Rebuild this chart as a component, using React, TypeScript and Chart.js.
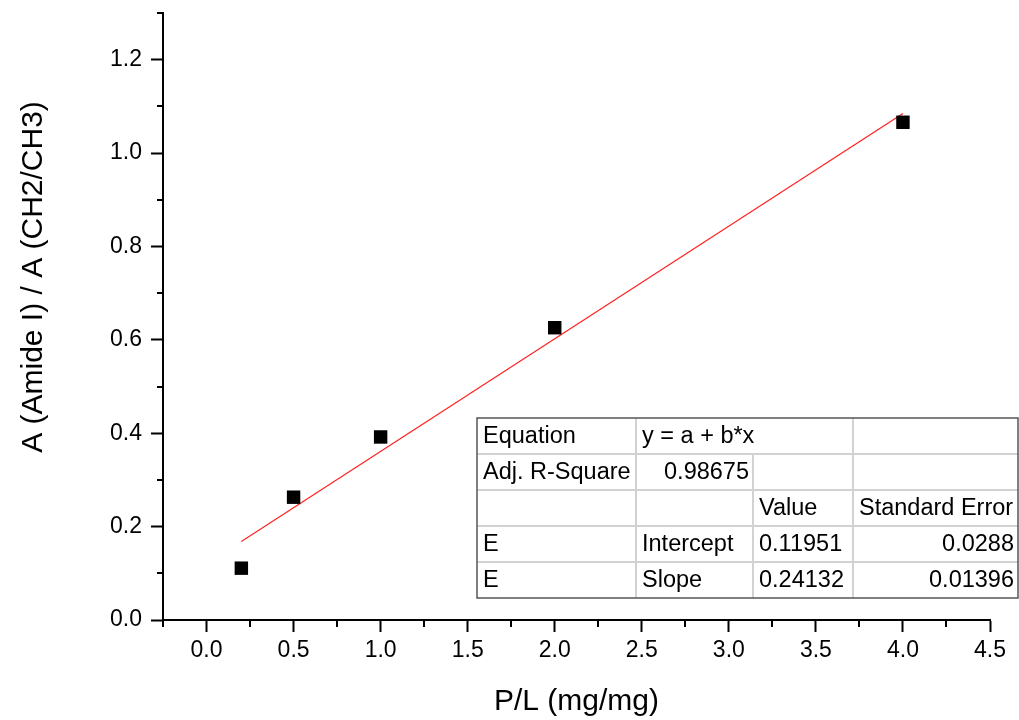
import React, { useEffect, useRef } from "react";
import { Chart, registerables } from "chart.js";

Chart.register(...registerables);

// ---- data ----
const plRatio = [0.2, 0.5, 1.0, 2.0, 4.0];
const amideRatio = [0.111, 0.263, 0.392, 0.626, 1.066];
const fitX = [0.2, 4.0];
const fitY = [0.168, 1.085];

const xMajorTicks = [0, 0.5, 1.0, 1.5, 2.0, 2.5, 3.0, 3.5, 4.0, 4.5];
const xMinorTicks = [-0.25, 0.25, 0.75, 1.25, 1.75, 2.25, 2.75, 3.25, 3.75, 4.25];
const yMajorTicks = [0, 0.2, 0.4, 0.6, 0.8, 1.0, 1.2];
const yMinorTicks = [0.1, 0.3, 0.5, 0.7, 0.9, 1.1, 1.3];

const xTitle = "P/L (mg/mg)";
const yTitle = "A (Amide I) / A (CH2/CH3)";

const tableRow1 = ["Equation", "y = a + b*x", ""];
const tableRow2 = ["Adj. R-Square", "0.98675", "", ""];
const tableRow3 = ["", "", "Value", "Standard Error"];
const tableRow4 = ["E", "Intercept", "0.11951", "0.0288"];
const tableRow5 = ["E", "Slope", "0.24132", "0.01396"];

const FONT = "'Liberation Sans', Arial, Helvetica, sans-serif";

const decorPlugin = {
  id: "decor",
  afterDraw(chart: any) {
    const ctx = chart.ctx as CanvasRenderingContext2D;
    const xs = chart.scales.x;
    const ys = chart.scales.y;
    const area = chart.chartArea;
    ctx.save();
    // minor ticks
    ctx.strokeStyle = "#000";
    ctx.lineWidth = 2;
    ctx.beginPath();
    xMinorTicks.forEach((v) => {
      const px = Math.round(xs.getPixelForValue(v));
      ctx.moveTo(px, area.bottom);
      ctx.lineTo(px, area.bottom + 7);
    });
    yMinorTicks.forEach((v) => {
      const py = Math.round(ys.getPixelForValue(v));
      ctx.moveTo(area.left, py);
      ctx.lineTo(area.left - 6, py);
    });
    ctx.stroke();

    // axis titles
    ctx.fillStyle = "#000";
    ctx.font = `30px ${FONT}`;
    ctx.textAlign = "center";
    ctx.textBaseline = "alphabetic";
    ctx.fillText(xTitle, (area.left + area.right) / 2, 710);
    ctx.save();
    ctx.translate(42, 277);
    ctx.rotate(-Math.PI / 2);
    ctx.fillText(yTitle, 0, 0);
    ctx.restore();

    // results table
    const colX = [477, 636, 753, 853, 1018];
    const top = 418;
    const rowH = 36;
    const rows = [tableRow1, tableRow2, tableRow3, tableRow4, tableRow5];
    const bottom = top + rowH * rows.length;
    ctx.fillStyle = "#fff";
    ctx.fillRect(colX[0], top, colX[4] - colX[0], bottom - top);
    ctx.strokeStyle = "#d2d2d2";
    ctx.lineWidth = 2;
    ctx.beginPath();
    for (let r = 1; r < rows.length; r++) {
      ctx.moveTo(colX[0], top + r * rowH);
      ctx.lineTo(colX[4], top + r * rowH);
    }
    ctx.moveTo(colX[1], top);
    ctx.lineTo(colX[1], bottom);
    ctx.moveTo(colX[2], top + rowH);
    ctx.lineTo(colX[2], bottom);
    ctx.moveTo(colX[3], top);
    ctx.lineTo(colX[3], bottom);
    ctx.stroke();
    ctx.strokeStyle = "#555";
    ctx.lineWidth = 1.5;
    ctx.strokeRect(colX[0], top, colX[4] - colX[0], bottom - top);

    ctx.fillStyle = "#000";
    ctx.font = `23.5px ${FONT}`;
    ctx.textBaseline = "middle";
    const pad = 6;
    const cy = (r: number) => top + r * rowH + rowH / 2 + 1;
    const left = (t: string, c: number, r: number) => {
      ctx.textAlign = "left";
      ctx.fillText(t, colX[c] + pad, cy(r));
    };
    const right = (t: string, c: number, r: number) => {
      ctx.textAlign = "right";
      ctx.fillText(t, colX[c + 1] - 4, cy(r));
    };
    left(tableRow1[0], 0, 0);
    left(tableRow1[1], 1, 0);
    left(tableRow2[0], 0, 1);
    right(tableRow2[1], 1, 1);
    left(tableRow3[2], 2, 2);
    left(tableRow3[3], 3, 2);
    [tableRow4, tableRow5].forEach((row, i) => {
      left(row[0], 0, 3 + i);
      left(row[1], 1, 3 + i);
      left(row[2], 2, 3 + i);
      right(row[3], 3, 3 + i);
    });
    ctx.restore();
  },
};

export default function App() {
  const canvasRef = useRef<HTMLCanvasElement | null>(null);

  useEffect(() => {
    if (!canvasRef.current) return;
    const chart = new Chart(canvasRef.current, {
      type: "scatter",
      data: {
        datasets: [
          {
            type: "line",
            label: "Fit",
            data: fitX.map((x, i) => ({ x, y: fitY[i] })),
            borderColor: "#ff2020",
            borderWidth: 1.2,
            pointRadius: 0,
            fill: false,
            order: 2,
          } as any,
          {
            label: "Data",
            data: plRatio.map((x, i) => ({ x, y: amideRatio[i] })),
            pointStyle: "rect",
            pointRadius: 9.5,
            pointHoverRadius: 9.5,
            backgroundColor: "#000",
            borderColor: "#000",
            borderWidth: 0,
            order: 1,
          },
        ],
      },
      options: {
        responsive: false,
        animation: false,
        events: [],
        layout: { padding: { left: 0, top: 13, right: 29, bottom: 0 } },
        plugins: {
          legend: { display: false },
          tooltip: { enabled: false },
        },
        scales: {
          x: {
            type: "linear",
            min: -0.25,
            max: 4.5,
            afterBuildTicks: (scale: any) => {
              scale.ticks = xMajorTicks.map((v) => ({ value: v }));
            },
            afterFit: (scale: any) => {
              scale.height = 100;
              scale.paddingLeft = 0;
              scale.paddingRight = 0;
            },
            ticks: {
              callback: (v: any) => Number(v).toFixed(1),
              color: "#000",
              font: { family: FONT, size: 23 },
              padding: 5,
              maxRotation: 0,
              autoSkip: false,
            },
            grid: {
              drawOnChartArea: false,
              drawTicks: true,
              tickLength: 12,
              tickWidth: 2,
              tickColor: "#000",
            },
            border: { display: true, color: "#000", width: 2 },
          },
          y: {
            type: "linear",
            min: 0,
            max: 1.3,
            afterBuildTicks: (scale: any) => {
              scale.ticks = yMajorTicks.map((v) => ({ value: v }));
            },
            afterFit: (scale: any) => {
              scale.width = 163;
              scale.paddingTop = 0;
              scale.paddingBottom = 0;
            },
            ticks: {
              callback: (v: any) => Number(v).toFixed(1),
              color: "#000",
              font: { family: FONT, size: 23 },
              padding: 9,
              autoSkip: false,
            },
            grid: {
              drawOnChartArea: false,
              drawTicks: true,
              tickLength: 12,
              tickWidth: 2,
              tickColor: "#000",
            },
            border: { display: true, color: "#000", width: 2 },
          },
        },
      },
      plugins: [decorPlugin],
    });
    return () => chart.destroy();
  }, []);

  return (
    <div
      style={{
        position: "fixed",
        left: 0,
        top: 0,
        width: 1019,
        height: 720,
        background: "#fff",
      }}
    >
      <canvas ref={canvasRef} width={1019} height={720} />
    </div>
  );
}
